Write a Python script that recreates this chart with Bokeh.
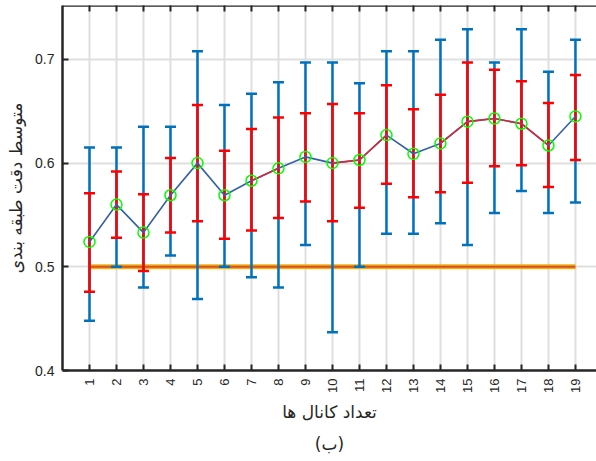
import math
from bokeh.plotting import figure
from bokeh.models import Range1d, LinearAxis, FixedTicker, Title, Span
from bokeh.embed import file_html
from bokeh.resources import INLINE

# ---- data ----
channels = list(range(1, 20))
mean_acc = [0.524, 0.560, 0.533, 0.569, 0.600, 0.569, 0.583, 0.595, 0.606, 0.600,
            0.603, 0.627, 0.609, 0.619, 0.640, 0.643, 0.638, 0.617, 0.645]
blue_upper = [0.615, 0.615, 0.635, 0.635, 0.708, 0.656, 0.667, 0.678, 0.697, 0.697,
              0.677, 0.708, 0.708, 0.719, 0.729, 0.697, 0.729, 0.688, 0.719]
blue_lower = [0.448, 0.500, 0.480, 0.511, 0.469, 0.500, 0.490, 0.480, 0.521, 0.437,
              0.500, 0.532, 0.532, 0.542, 0.521, 0.552, 0.573, 0.552, 0.562]
red_upper = [0.571, 0.592, 0.570, 0.605, 0.656, 0.612, 0.633, 0.644, 0.648, 0.657,
             0.648, 0.675, 0.652, 0.666, 0.697, 0.690, 0.679, 0.658, 0.685]
red_lower = [0.476, 0.528, 0.496, 0.533, 0.544, 0.527, 0.535, 0.547, 0.563, 0.544,
             0.557, 0.580, 0.567, 0.572, 0.581, 0.597, 0.598, 0.577, 0.603]
# colour of each line segment between consecutive points (b = blue, r = red)
segment_colour = ["b", "b", "b", "b", "b", "b", "r", "b", "b", "r",
                  "r", "b", "b", "r", "r", "r", "r", "b"]
chance_level = 0.5
y_ticks = [0.4, 0.5, 0.6, 0.7]
y_min, y_max = 0.4, 0.752
x_min, x_max = 0, 19.78
y_label = "متوسط دقت طبقه بندی"
x_label = "تعداد کانال ها"
caption = "(ب)"

BLUE = "#0072BD"
RED = "#FF0000"
LINE_BLUE = "#3461A6"
LINE_RED = "#D2283A"
AX = "#262626"

p = figure(width=596, height=461, output_backend="svg", toolbar_location=None,
           x_range=Range1d(x_min, x_max), y_range=Range1d(y_min, y_max),
           min_border_left=62, min_border_right=0, min_border_top=5,
           min_border_bottom=89, x_axis_location=None, y_axis_location=None)
p.outline_line_color = None
p.background_fill_color = "white"
p.border_fill_color = "white"

# axes
xaxis = LinearAxis(ticker=FixedTicker(ticks=channels))
yaxis = LinearAxis(ticker=FixedTicker(ticks=y_ticks))
for ax in (xaxis, yaxis):
    ax.axis_line_color = AX
    ax.axis_line_width = 2.5
    ax.major_tick_line_color = AX
    ax.major_tick_line_width = 2
    ax.major_tick_in = 6
    ax.major_tick_out = 0
    ax.minor_tick_line_color = None
    ax.major_label_text_color = AX
    ax.major_label_text_font = "Liberation Sans"
xaxis.major_label_text_font_size = "13px"
xaxis.major_label_orientation = math.pi / 2
xaxis.major_label_standoff = 8
xaxis.axis_label = x_label
xaxis.axis_label_text_font = "DejaVu Sans"
xaxis.axis_label_text_font_style = "normal"
xaxis.axis_label_text_font_size = "17px"
xaxis.axis_label_text_color = AX
xaxis.axis_label_standoff = 6

yaxis.major_label_text_font_size = "14px"
yaxis.major_label_standoff = 8
yaxis.major_label_overrides = {t: f"{t:.1f}" for t in y_ticks}
yaxis.axis_label = y_label
yaxis.axis_label_text_font = "DejaVu Sans"
yaxis.axis_label_text_font_style = "normal"
yaxis.axis_label_text_font_size = "17px"
yaxis.axis_label_text_color = AX
yaxis.axis_label_standoff = 6

p.add_layout(xaxis, "below")
p.add_layout(yaxis, "left")
p.add_layout(Title(text=caption, align="center", text_font="DejaVu Sans",
                   text_font_size="17px", text_font_style="normal",
                   text_color=AX, standoff=15), "below")

# top border with inward ticks
p.add_layout(Span(location=y_max, dimension="width", line_color=AX, line_width=2.5))
p.scatter(channels, [y_max] * len(channels), marker="dash", angle=math.pi / 2,
          size=12, line_color=AX, line_width=2)

# grid
p.xgrid.ticker = FixedTicker(ticks=channels)
p.ygrid.ticker = FixedTicker(ticks=y_ticks)
for g in (p.xgrid, p.ygrid):
    g.grid_line_color = "#DFDFDF"
    g.grid_line_width = 2

# chance level line
p.line(channels, [chance_level] * len(channels), line_color="#EDB120", line_width=5)
p.line(channels, [chance_level] * len(channels), line_color="#D95319", line_width=2)

# error bars
for lo, hi, col in ((blue_lower, blue_upper, BLUE), (red_lower, red_upper, RED)):
    p.segment(x0=channels, y0=lo, x1=channels, y1=hi, line_color=col, line_width=2.5)
    p.scatter(channels, hi, marker="dash", size=11, line_color=col, line_width=2.5)
    p.scatter(channels, lo, marker="dash", size=11, line_color=col, line_width=2.5)

# mean line
p.line(channels, mean_acc, line_color=LINE_BLUE, line_width=1.6)
rx0, ry0, rx1, ry1 = [], [], [], []
for i, c in enumerate(segment_colour):
    if c == "r":
        rx0.append(channels[i]); ry0.append(mean_acc[i])
        rx1.append(channels[i + 1]); ry1.append(mean_acc[i + 1])
p.segment(x0=rx0, y0=ry0, x1=rx1, y1=ry1, line_color=LINE_RED, line_width=1.6)

# markers
p.scatter(channels, mean_acc, marker="circle", size=11, fill_color=None,
          line_color="#00FF00", line_width=1.5)

open("out.html", "w").write(file_html(p, INLINE))
